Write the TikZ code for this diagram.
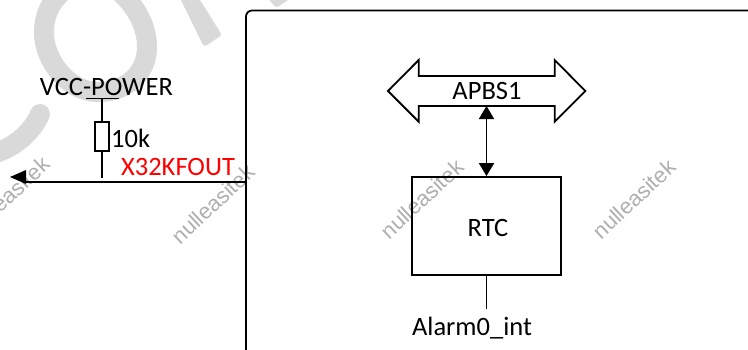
\documentclass[tikz,border=0pt]{standalone}
\usepackage{fontspec}
\setmainfont{Carlito}
\newfontfamily\wmfont{Liberation Sans}
\usetikzlibrary{arrows.meta}
\definecolor{bigwm}{RGB}{217,217,217}
\definecolor{smallwm}{RGB}{175,175,175}
\tikzset{
  wire/.style={draw=black,line width=1.8pt},
  lbl/.style={font=\fontsize{26.5}{30}\selectfont,inner sep=0pt,text=black},
  wmark/.style={font=\wmfont\fontsize{22}{24}\selectfont,text=smallwm,rotate=43,inner sep=0pt},
  bigstroke/.style={draw=bigwm,line width=20pt,line cap=round},
  bigblob/.style={fill=bigwm,rounded corners=3pt},
  boxed/.style={draw=black,line width=1.8pt,fill=white,inner sep=0pt}
}
\begin{document}
\begin{tikzpicture}[x=1pt,y=-1pt]
\useasboundingbox (0,0) rectangle (748,349);
\begin{scope}
\clip (0,0) rectangle (748,349);
% large background watermark
\draw[bigstroke] (70,-15) .. controls (50,0) and (44,15) .. (44,33) .. controls (44,60) and (68,92) .. (98,92) .. controls (128,92) and (147,72) .. (147,47) .. controls (147,25) and (135,5) .. (118,-10);
\draw[bigstroke] (-12,155) .. controls (12,150) and (32,133) .. (40,114);
\fill[bigblob] (177,-8) -- (204,47) -- (222,35) -- (195,-8) -- cycle;
\fill[bigblob] (266,-4) -- (276,8) -- (294,-4) -- cycle;
% small watermarks
\node[wmark] (w1) at (8,196) {nulleasitek};
\node[wmark] (w2) at (213,204) {nulleasitek};
\node[wmark] (w3) at (422,199) {nulleasitek};
\node[wmark] (w4) at (634,199) {nulleasitek};
% main block
\draw[wire,rounded corners=6pt] (246,360) -- (246,10.5) -- (760,10.5);
\end{scope}
% named points
\coordinate (pin) at (246,182);
\coordinate (lineend) at (24,182);
\coordinate (barL) at (86,98.5);
\coordinate (barR) at (119,98.5);
\coordinate (barM) at (102,98.5);
\coordinate (stub) at (102,178);
\coordinate (alarm) at (486.5,309);
% output line
\draw[wire] (pin) -- (lineend);
\fill[black] (10,177) -- (26,170) -- (26,184) -- cycle;
% pull-up
\node[lbl] (vcc) at (106.5,87) {VCC-POWER};
\draw[wire] (barL) -- (barR);
\node[boxed,minimum width=14pt,minimum height=29pt] (res) at (102,136.5) {};
\draw[wire] (barM) -- (res.north);
\draw[wire] (res.south) -- (stub);
\node[lbl,anchor=west] (rval) at (111,138) {10k};
\node[lbl,text=red] (sig) at (178,167) {X32KFOUT};
% bus
\draw[line width=1.8pt] (388,91) -- (418.7,60) -- (418.7,76) -- (554.7,76) -- (554.7,60) -- (585.3,91) -- (554.7,121.7) -- (554.7,106) -- (418.7,106) -- (418.7,121.7) -- cycle;
\coordinate (busb) at (486.5,106);
\node[lbl] (apbs) at (487,91) {APBS1};
% RTC
\node[boxed,fill=none,minimum width=149pt,minimum height=98pt] (rtc) at (486.5,226) {};
\node[lbl] (rtct) at (488,228) {RTC};
\draw[wire,{Triangle[length=13pt,width=15pt]}-{Triangle[length=13pt,width=15pt]}] (busb) -- (rtc.north);
\draw[wire] (rtc.south) -- (alarm);
\node[lbl] (al) at (472,328) {Alarm0\_int};
\end{tikzpicture}
\end{document}
